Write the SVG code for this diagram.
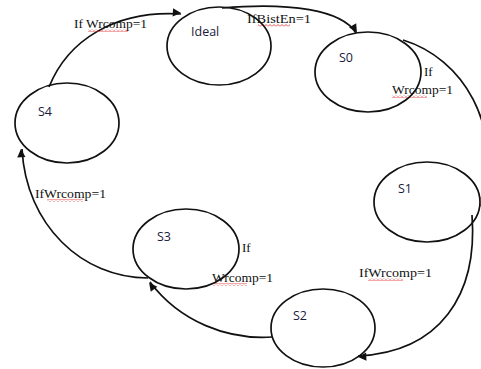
<svg xmlns="http://www.w3.org/2000/svg" width="481" height="369" viewBox="0 0 481 369">
  <style>
    .state { fill: none; stroke: #111; stroke-width: 1.7; }
    .name { font-family: "Open Sans", "Liberation Sans", sans-serif; font-size: 12.5px; fill: #1a1a3a; }
    .edge { fill: none; stroke: #111; stroke-width: 1.7; marker-end: url(#arrow); }
    .cond { font-family: "Liberation Serif", serif; font-size: 13px; fill: #111; }
    .spell { fill: url(#squiggle); }
  </style>
  <defs>
    <marker id="arrow" viewBox="0 0 10 10" refX="9" refY="5" markerWidth="5.5" markerHeight="5.5" orient="auto" markerUnits="userSpaceOnUse" overflow="visible">
      <path d="M0,0 L10,5 L0,10 z" fill="#111" transform="scale(1.5) translate(-4,-3)"/>
    </marker>
    <pattern id="squiggle" width="4" height="3" patternUnits="userSpaceOnUse">
      <path d="M0,2.5 L2,0.5 L4,2.5" fill="none" stroke="#e02020" stroke-width="0.8"/>
    </pattern>
  </defs>

  <g id="connectors">
    <path class="edge" d="M49,87 C68,40 115,10 181,14"/>
    <path class="edge" d="M222,8 C290,2 342,10 356,33"/>
    <path class="edge" d="M403,40 C462,58 505,125 481,206"/>
    <path class="edge" d="M472,215 C478,295 440,352 358,356"/>
    <path class="edge" d="M272,337 C228,340 180,322 150,282"/>
    <path class="edge" d="M148,278 C82,278 26,225 22,149"/>
  </g>

  <g id="labels">
    <text class="cond" x="74" y="28" textLength="73" lengthAdjust="spacingAndGlyphs">If Wrcomp=1</text>
    <rect class="spell" x="88" y="29" width="40" height="3"/>
    <text class="cond" x="247" y="23" textLength="64" lengthAdjust="spacingAndGlyphs">IfBistEn=1</text>
    <rect class="spell" x="258" y="24" width="32" height="3"/>
    <text class="cond" x="424" y="76">If</text>
    <text class="cond" x="392" y="94" textLength="61" lengthAdjust="spacingAndGlyphs">Wrcomp=1</text>
    <rect class="spell" x="392" y="95" width="35" height="3"/>
    <text class="cond" x="35" y="198" textLength="71" lengthAdjust="spacingAndGlyphs">IfWrcomp=1</text>
    <rect class="spell" x="47" y="199" width="36" height="3"/>
    <text class="cond" x="242" y="252">If</text>
    <text class="cond" x="212" y="282" textLength="61" lengthAdjust="spacingAndGlyphs">Wrcomp=1</text>
    <rect class="spell" x="212" y="283" width="35" height="3"/>
    <text class="cond" x="359" y="277" textLength="73" lengthAdjust="spacingAndGlyphs">IfWrcomp=1</text>
    <rect class="spell" x="368" y="278" width="35" height="3"/>
  </g>

  <g id="ideal">
    <ellipse class="state" cx="219" cy="46" rx="52" ry="39"/>
    <text class="name" x="191" y="36">Ideal</text>
  </g>
  <g id="s0">
    <ellipse class="state" cx="368" cy="72" rx="53" ry="40"/>
    <text class="name" x="339" y="62">S0</text>
  </g>
  <g id="s1">
    <ellipse class="state" cx="427" cy="202" rx="53" ry="40"/>
    <text class="name" x="398" y="193">S1</text>
  </g>
  <g id="s2">
    <ellipse class="state" cx="323" cy="328" rx="52" ry="39"/>
    <text class="name" x="293" y="320">S2</text>
  </g>
  <g id="s3">
    <ellipse class="state" cx="186" cy="249" rx="53" ry="40"/>
    <text class="name" x="157" y="241">S3</text>
  </g>
  <g id="s4">
    <ellipse class="state" cx="67" cy="123" rx="52" ry="40"/>
    <text class="name" x="38" y="116">S4</text>
  </g>
</svg>
